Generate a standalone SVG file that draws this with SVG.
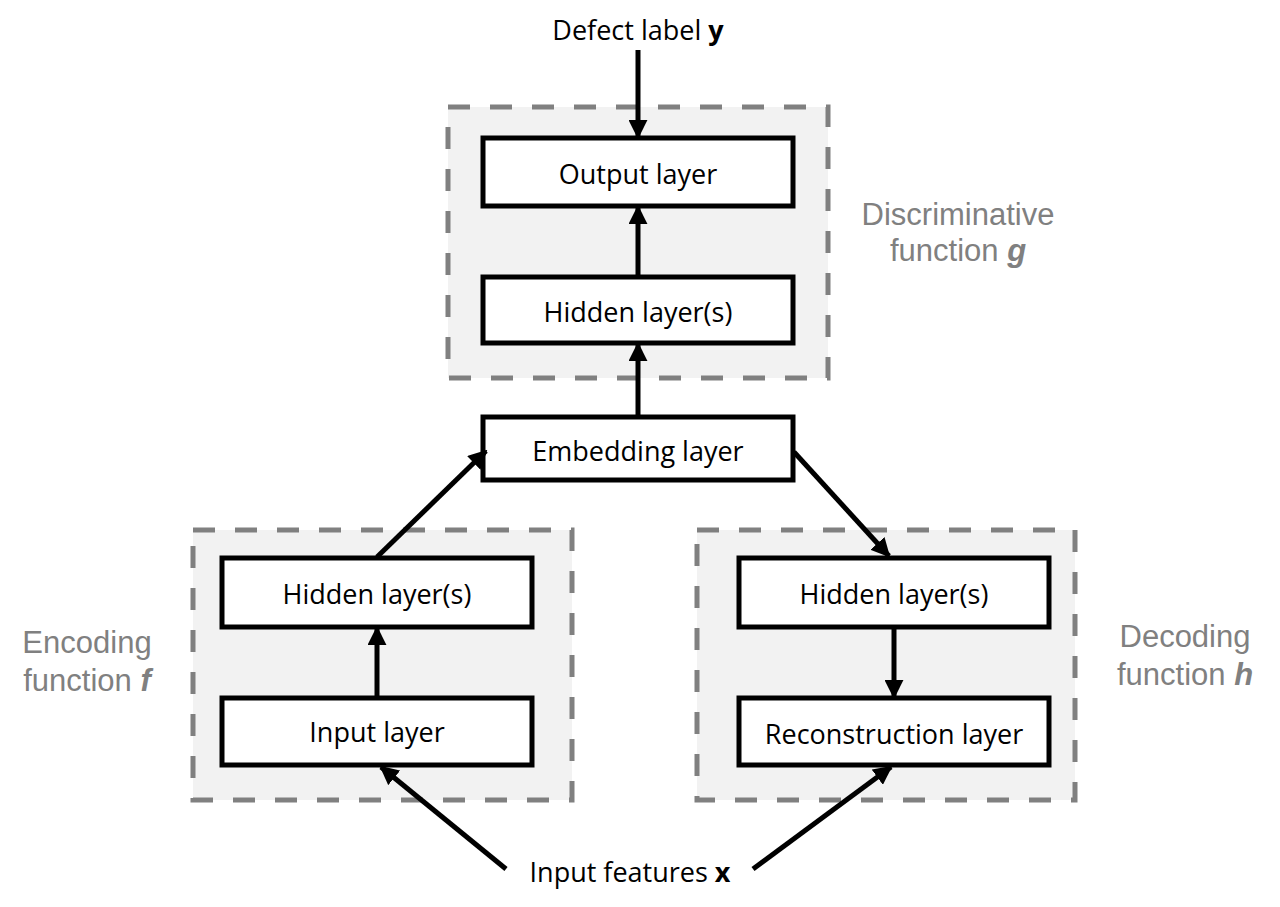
<svg xmlns="http://www.w3.org/2000/svg" width="1280" height="907" viewBox="0 0 1280 907">
<defs>
<style>
.group{fill:#f2f2f2;stroke:#808080;stroke-width:5;stroke-dasharray:22 20}
.box{fill:#ffffff;stroke:#000000;stroke-width:5}
.lbl{font-family:"Open Sans","Liberation Sans",sans-serif;font-size:27px;fill:#000;text-anchor:middle}
.cap{font-family:"Liberation Sans",Arial,sans-serif;font-size:31px;fill:#808080;text-anchor:middle}
.edge{stroke:#000;stroke-width:5;fill:none;marker-end:url(#ah)}
</style>
<marker id="ah" viewBox="0 0 10 10" refX="9" refY="5" markerWidth="3.8" markerHeight="3.8" orient="auto" markerUnits="strokeWidth">
<path d="M0,0 L10,5 L0,10 z" fill="#000"/>
</marker>
</defs>
<rect width="1280" height="907" fill="#ffffff"/>

<g id="group-g">
<rect class="group" x="448" y="107" width="380" height="271"/>
<text class="cap" x="958" y="225">Discriminative</text>
<text class="cap" x="958" y="261">function <tspan font-weight="bold" font-style="italic">g</tspan></text>
</g>
<g id="group-f">
<rect class="group" x="193" y="530" width="379" height="270"/>
<text class="cap" x="87" y="653">Encoding</text>
<text class="cap" x="87" y="691">function <tspan font-weight="bold" font-style="italic">f</tspan></text>
</g>
<g id="group-h">
<rect class="group" x="697" y="530" width="378" height="270"/>
<text class="cap" x="1185" y="647">Decoding</text>
<text class="cap" x="1185" y="685">function <tspan font-weight="bold" font-style="italic">h</tspan></text>
</g>

<g id="output-layer">
<rect class="box" x="483" y="138" width="310" height="68"/>
<text class="lbl" x="638" y="184">Output layer</text>
</g>
<g id="hidden-g">
<rect class="box" x="483" y="277" width="310" height="66"/>
<text class="lbl" x="638" y="322">Hidden layer(s)</text>
</g>
<g id="embedding-layer">
<rect class="box" x="483" y="417" width="310" height="63"/>
<text class="lbl" x="638" y="461">Embedding layer</text>
</g>
<g id="hidden-f">
<rect class="box" x="222" y="558" width="310" height="69"/>
<text class="lbl" x="377" y="604">Hidden layer(s)</text>
</g>
<g id="input-layer">
<rect class="box" x="222" y="698" width="310" height="67"/>
<text class="lbl" x="377" y="742">Input layer</text>
</g>
<g id="hidden-h">
<rect class="box" x="739" y="558" width="310" height="69"/>
<text class="lbl" x="894" y="604">Hidden layer(s)</text>
</g>
<g id="reconstruction-layer">
<rect class="box" x="739" y="698" width="310" height="67"/>
<text class="lbl" x="894" y="744">Reconstruction layer</text>
</g>
<g id="defect-label">
<text class="lbl" x="638" y="40">Defect label <tspan font-weight="bold">y</tspan></text>
</g>
<g id="input-features">
<text class="lbl" x="630" y="882">Input features <tspan font-weight="bold">x</tspan></text>
</g>

<g id="connectors">
<line class="edge" x1="638" y1="50" x2="638" y2="137"/>
<line class="edge" x1="638" y1="277" x2="638" y2="207"/>
<line class="edge" x1="638" y1="417" x2="638" y2="344"/>
<line class="edge" x1="377" y1="557" x2="486" y2="451"/>
<line class="edge" x1="794" y1="452" x2="889" y2="556"/>
<line class="edge" x1="377" y1="698" x2="377" y2="628"/>
<line class="edge" x1="894" y1="627" x2="894" y2="697"/>
<line class="edge" x1="506" y1="869" x2="381" y2="767"/>
<line class="edge" x1="753" y1="869" x2="891" y2="767"/>
</g>
</svg>
